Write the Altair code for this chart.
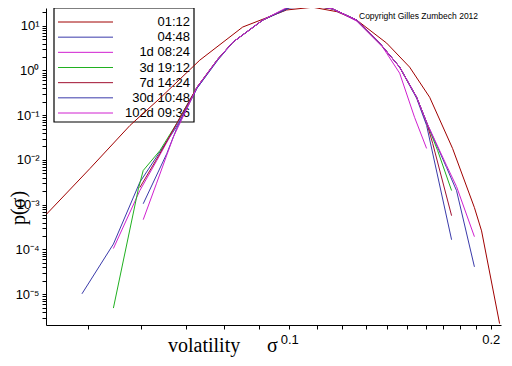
import altair as alt
import pandas as pd

series_names = ["01:12", "04:48", "1d 08:24", "3d 19:12", "7d 14:24", "30d 10:48", "102d 09:36"]
series_colors = ["#a00000", "#3a3aaa", "#d020d0", "#20b020", "#a01030", "#3a3aaa", "#d020d0"]

x_0112 = [0.0434, 0.0504, 0.0578, 0.0641, 0.0735, 0.0852, 0.0991, 0.1084, 0.1178, 0.1261, 0.1398, 0.1513, 0.1621, 0.1754, 0.1891, 0.1938, 0.2062]
y_0112 = [6.2e-4, 6.5e-3, 5.9e-2, 0.24, 1.70, 9.35, 22.5, 25.9, 20.6, 13.4, 4.09, 1.19, 0.252, 0.0181, 8.6e-4, 2.6e-4, 2.2e-6]

x_0448 = [0.0490, 0.0546, 0.0598, 0.0633, 0.0678, 0.0728, 0.0782, 0.0824, 0.0913, 0.1002, 0.1084, 0.1161, 0.1261, 0.1365, 0.1462, 0.1550, 0.1604, 0.1748]
y_0448 = [1.02e-5, 1.32e-4, 3.18e-3, 0.01156, 0.0544, 0.401, 1.79, 4.31, 13.4, 24.9, 27.6, 23.7, 13.4, 4.09, 1.19, 0.239, 0.0594, 1.65e-4]

x_1d = [0.0546, 0.0598, 0.0634, 0.0679, 0.0728, 0.0782, 0.0824, 0.0913, 0.1002, 0.1084, 0.1161, 0.1261, 0.1379, 0.1462, 0.1539, 0.1604]
y_1d = [1.05e-4, 2.07e-3, 9.74e-3, 0.0625, 0.422, 1.79, 4.31, 13.4, 26.3, 28.4, 23.7, 12.7, 3.33, 0.870, 0.0897, 0.0181]

x_3d = [0.0546, 0.0595, 0.0605, 0.0641, 0.0679, 0.0728, 0.0782, 0.0824, 0.0913, 0.1002, 0.1084, 0.1161, 0.1261, 0.1365, 0.1462, 0.1550, 0.1604, 0.1666, 0.1748]
y_3d = [4.9e-6, 2.26e-3, 5.82e-3, 0.0163, 0.0658, 0.422, 1.79, 4.31, 13.4, 26.3, 28.4, 23.7, 13.4, 4.09, 1.19, 0.252, 0.0693, 0.0163, 2.07e-3]

x_7d = [0.0598, 0.0641, 0.0679, 0.0728, 0.0782, 0.0824, 0.0913, 0.1002, 0.1084, 0.1161, 0.1261, 0.1365, 0.1462, 0.1550, 0.1604, 0.1638, 0.1748]
y_7d = [2.42e-3, 0.0140, 0.0658, 0.422, 1.79, 4.31, 13.4, 26.3, 27.6, 23.7, 13.4, 4.09, 1.19, 0.252, 0.0693, 0.0234, 5.69e-4]

x_30d = [0.0605, 0.0656, 0.0679, 0.0728, 0.0782, 0.0824, 0.0913, 0.1002, 0.1084, 0.1161, 0.1261, 0.1365, 0.1462, 0.1550, 0.1604, 0.1718, 0.1778, 0.1891]
y_30d = [1.05e-3, 0.0138, 0.0509, 0.401, 1.70, 4.31, 13.4, 26.3, 29.1, 23.7, 13.4, 4.09, 1.19, 0.252, 0.0693, 6.79e-3, 2.07e-3, 4.09e-5]

x_102d = [0.0605, 0.0633, 0.0671, 0.0728, 0.0782, 0.0824, 0.0913, 0.1002, 0.1084, 0.1161, 0.1261, 0.1365, 0.1462, 0.1550, 0.1604, 0.1718, 0.1778, 0.1891]
y_102d = [4.63e-4, 2.93e-3, 0.0324, 0.422, 1.79, 4.31, 13.4, 27.6, 29.9, 23.7, 13.4, 4.09, 1.19, 0.252, 0.0693, 7.53e-3, 2.55e-3, 1.93e-4]

x_tick_values = [0.05, 0.06, 0.07, 0.08, 0.09, 0.1, 0.11, 0.12, 0.13, 0.14, 0.15, 0.16, 0.17, 0.18, 0.19, 0.2]
y_tick_values = [float(f"{m}e{e}") for e in range(-6, 2) for m in range(1, 10)
                 if 2.05e-6 <= float(f"{m}e{e}") <= 24.9]

x_domain = [0.0433, 0.2072]
y_domain = [2.05e-6, 24.9]

all_x = [x_0112, x_0448, x_1d, x_3d, x_7d, x_30d, x_102d]
all_y = [y_0112, y_0448, y_1d, y_3d, y_7d, y_30d, y_102d]

rows = []
for k, (name, xs, ys) in enumerate(zip(series_names, all_x, all_y)):
    for i, (xv, yv) in enumerate(zip(xs, ys)):
        rows.append({"series": name, "k": k, "i": i, "x": xv, "y": yv})
df = pd.DataFrame(rows)

color_scale = alt.Scale(domain=series_names, range=series_colors)
FONT = "Liberation Sans"
SERIF = "Liberation Serif"

y_label_expr = ("datum.value == 10 ? '10\u00b9' : datum.value == 1 ? '10\u2070' : "
                "datum.value == 0.1 ? '10\u207b\u00b9' : datum.value == 0.01 ? '10\u207b\u00b2' : "
                "datum.value == 0.001 ? '10\u207b\u00b3' : datum.value == 0.0001 ? '10\u207b\u2074' : "
                "datum.value == 0.00001 ? '10\u207b\u2075' : ''")
x_label_expr = "datum.value == 0.1 ? '0.1' : datum.value == 0.2 ? '0.2' : ''"

lines = alt.Chart(df).mark_line(clip=True, strokeWidth=1).encode(
    x=alt.X("x:Q", scale=alt.Scale(type="log", domain=x_domain, nice=False),
            axis=alt.Axis(values=x_tick_values, labelExpr=x_label_expr, title=None, grid=False,
                          domainColor="black", tickColor="black", tickSize=4,
                          labelFont=FONT, labelFontSize=13, labelColor="black",
                          labelPadding=4, labelOverlap=False, labelFlush=False)),
    y=alt.Y("y:Q", scale=alt.Scale(type="log", domain=y_domain, nice=False),
            axis=alt.Axis(orient="left", values=y_tick_values, labelExpr=y_label_expr, title=None,
                          grid=False, domainColor="black", tickColor="black", tickSize=4,
                          labelFont=FONT, labelFontSize=13, labelColor="black",
                          labelPadding=3, labelOverlap=False, labelFlush=False)),
    color=alt.Color("series:N", scale=color_scale, legend=None),
    detail="k:N",
    order="i:Q",
)

leg_df = pd.DataFrame({"series": series_names, "row": list(range(len(series_names)))})
leg_y = alt.Y("row:Q", scale=alt.Scale(domain=[0, 6], range=[14, 105]), axis=None)

dummy = pd.DataFrame({"a": [0]})

leg_box = alt.Chart(dummy).mark_rect(fillOpacity=0, stroke="black", strokeWidth=1.2).encode(
    x=alt.value(8), x2=alt.value(148), y=alt.value(0), y2=alt.value(114))

leg_rules = alt.Chart(leg_df).mark_rule(strokeWidth=1).encode(
    x=alt.value(12), x2=alt.value(67), y=leg_y,
    color=alt.Color("series:N", scale=color_scale, legend=None))

leg_text = alt.Chart(leg_df).mark_text(align="right", baseline="middle", font=FONT,
                                        fontSize=13, color="black").encode(
    x=alt.value(144), y=leg_y, text="series:N")

x_title1 = alt.Chart(dummy).mark_text(align="left", baseline="alphabetic", font=SERIF,
                                      fontSize=20, color="black").encode(
    x=alt.value(122), y=alt.value(344), text=alt.value("volatility"))
x_title2 = alt.Chart(dummy).mark_text(align="left", baseline="alphabetic", font=SERIF,
                                      fontSize=20, color="black").encode(
    x=alt.value(221), y=alt.value(344), text=alt.value("σ"))
y_title = alt.Chart(dummy).mark_text(align="center", baseline="middle", font=SERIF,
                                     fontSize=20, color="black", angle=270).encode(
    x=alt.value(-27), y=alt.value(200), text=alt.value("p(σ)"))
copyright_text = alt.Chart(dummy).mark_text(align="left", baseline="middle", font=FONT,
                                            fontSize=8.5, color="black").encode(
    x=alt.value(313), y=alt.value(8), text=alt.value("Copyright Gilles Zumbech 2012"))

chart = alt.layer(
    leg_box, leg_rules, leg_text, lines, x_title1, x_title2, y_title, copyright_text
).resolve_scale(y="independent").properties(
    width=455, height=317,
    autosize=alt.AutoSizeParams(type="none"),
    padding={"left": 38, "top": 0, "right": 2, "bottom": 33},
    background="white",
).configure_view(stroke=None)

chart.save("out.html", embed_options={"renderer": "svg", "actions": False})
